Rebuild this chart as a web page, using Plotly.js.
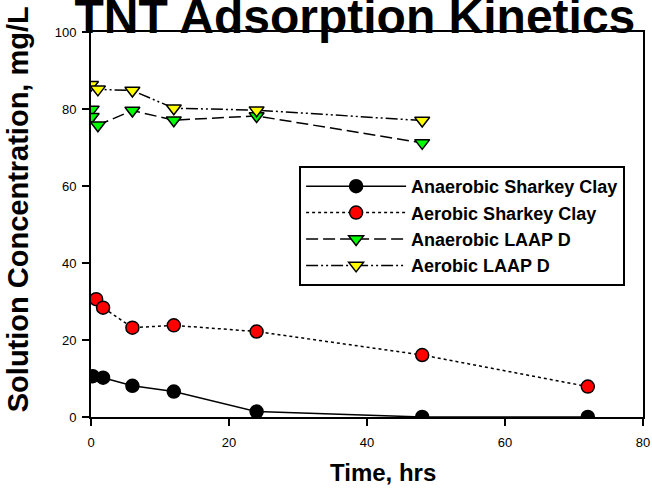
<!DOCTYPE html>
<html>
<head>
<meta charset="utf-8">
<script src="https://cdn.plot.ly/plotly-3.0.1.min.js"></script>
<style>html,body{margin:0;padding:0;background:#fff;}#chart{width:652px;height:494px;}</style>
</head>
<body>
<div id="chart"></div>
<script>
// Series names
const seriesNames = ["Anaerobic Sharkey Clay", "Aerobic Sharkey Clay", "Anaerobic LAAP D", "Aerobic LAAP D"];

// Time (hrs) and concentration (mg/L)
const anSharkeyX = [0.25, 1.75, 6, 12, 24, 48, 72];
const anSharkeyY = [10.6, 10.2, 8.1, 6.6, 1.4, 0, 0];

const aeSharkeyX = [0.75, 1.75, 6, 12, 24, 48, 72];
const aeSharkeyY = [30.6, 28.4, 23.2, 23.8, 22.2, 16.1, 7.9];

const anLaapX = [0.1, 0.1, 1, 6, 12, 24, 48];
const anLaapY = [79.9, 78.0, 75.8, 79.6, 77.1, 78.2, 71.2];

const aeLaapX = [0, 1, 6, 12, 24, 48];
const aeLaapY = [86.3, 85.1, 84.8, 80.2, 79.7, 77.0];

const xTicks = [0, 20, 40, 60, 80];
const yTicks = [0, 20, 40, 60, 80, 100];

const titleText = "TNT Adsorption Kinetics";
const xTitle = "Time, hrs";
const yTitle = "Solution Concentration, mg/L";

const FONT = "Liberation Sans, Arial, Helvetica, sans-serif";

const traces = [
  {x: anSharkeyX, y: anSharkeyY, name: seriesNames[0], mode: "lines+markers",
   line: {color: "#000", width: 1.5, dash: "solid"},
   marker: {symbol: "circle", size: 13, color: "#000", line: {color: "#000", width: 1.5}}},
  {x: aeSharkeyX, y: aeSharkeyY, name: seriesNames[1], mode: "lines+markers",
   line: {color: "#000", width: 1.5, dash: "dot"},
   marker: {symbol: "circle", size: 13, color: "#ff0000", line: {color: "#000", width: 1.5}}},
  {x: anLaapX, y: anLaapY, name: seriesNames[2], mode: "lines+markers",
   line: {color: "#000", width: 1.5, dash: "12px,5px"},
   marker: {symbol: "triangle-down", size: 13, color: "#00ff00", line: {color: "#000", width: 1.5}}},
  {x: aeLaapX, y: aeLaapY, name: seriesNames[3], mode: "lines+markers",
   line: {color: "#000", width: 1.5, dash: "12px,3px,2px,3px,2px,3px"},
   marker: {symbol: "triangle-down", size: 13, color: "#ffff00", line: {color: "#000", width: 1.5}}}
];

const axisCommon = {
  showgrid: false, zeroline: false, showline: true, linecolor: "#000", linewidth: 2,
  mirror: true, ticks: "outside", ticklen: 7, tickwidth: 1.5, tickcolor: "#000",
  tickfont: {family: FONT, size: 13, color: "#000"}, tickmode: "array"
};

const layout = {
  width: 652, height: 494,
  margin: {l: 91, r: 9, t: 32, b: 77},
  paper_bgcolor: "#fff", plot_bgcolor: "#fff",
  showlegend: true,
  title: {text: titleText, font: {family: FONT, size: 48, color: "#000", weight: "bold"},
          xref: "paper", x: 0.478, xanchor: "center", yref: "container", y: 0.968, yanchor: "middle"},
  xaxis: Object.assign({}, axisCommon, {range: [0, 80], tickvals: xTicks, ticktext: xTicks.map(String), ticklabelstandoff: 5}),
  yaxis: Object.assign({}, axisCommon, {range: [0, 100], tickvals: yTicks, ticktext: yTicks.map(String), ticklabelstandoff: 3}),
  legend: {x: 0.377, y: 0.652, xanchor: "left", yanchor: "top", bgcolor: "#fff",
           bordercolor: "#000", borderwidth: 2, itemwidth: 100,
           font: {family: FONT, size: 18, color: "#000", weight: "bold"}},
  annotations: [
    {text: xTitle, xref: "paper", yref: "paper", x: 0.529, y: -0.145, xanchor: "center", yanchor: "middle",
     showarrow: false, font: {family: FONT, size: 24, color: "#000", weight: "bold"}},
    {text: yTitle, xref: "paper", yref: "paper", x: -0.132, y: 0.54, xanchor: "center", yanchor: "middle",
     textangle: -90, showarrow: false, font: {family: FONT, size: 29, color: "#000", weight: "bold"}}
  ]
};

Plotly.newPlot("chart", traces, layout, {displayModeBar: false, staticPlot: true});
</script>
</body>
</html>
